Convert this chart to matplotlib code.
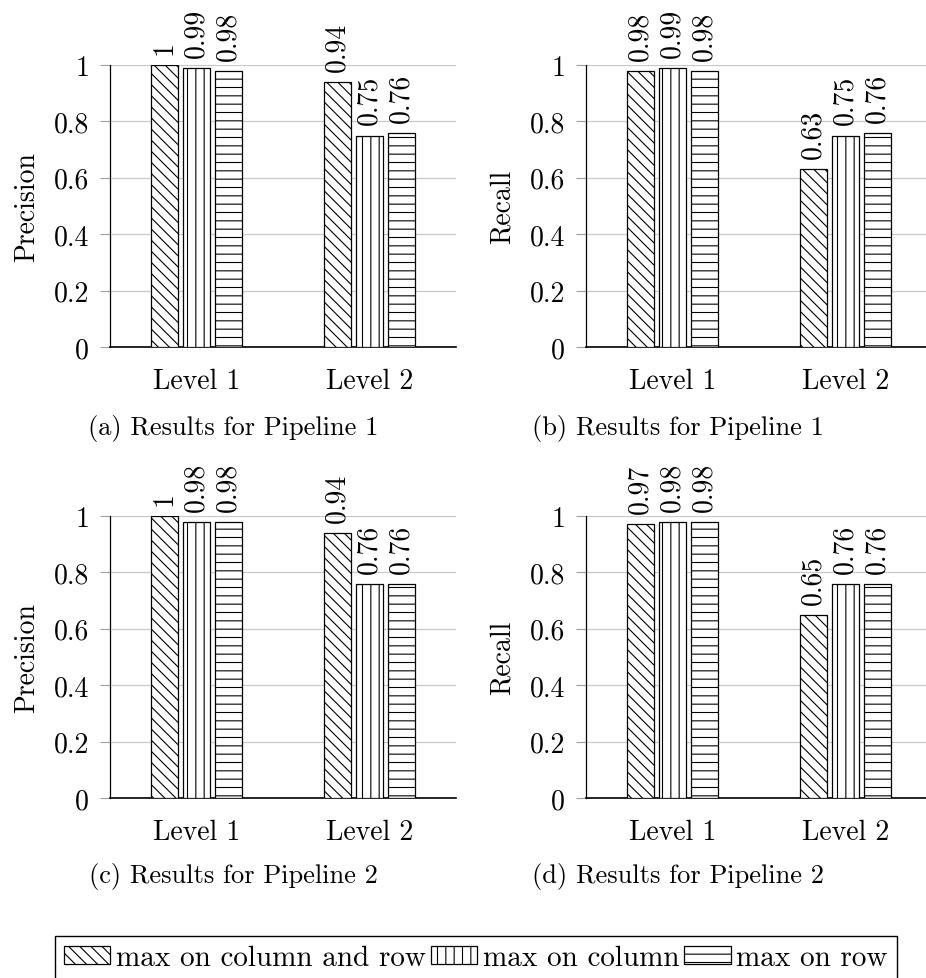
import matplotlib
matplotlib.use("Agg")
import matplotlib.pyplot as plt
import numpy as np

plt.rcParams['font.family'] = ['cmr10', 'DejaVu Serif']
plt.rcParams['axes.formatter.use_mathtext'] = True
plt.rcParams['hatch.linewidth'] = 0.8
plt.rcParams['hatch.color'] = 'black'

categories = ["Level 1", "Level 2"]
series_names = ["max on column and row", "max on column", "max on row"]
hatches = ["\\\\\\", "||", "--"]

# values[panel][series] -> [Level 1, Level 2]
panel_a = [[1.00, 0.94], [0.99, 0.75], [0.98, 0.76]]
panel_b = [[0.98, 0.63], [0.99, 0.75], [0.98, 0.76]]
panel_c = [[1.00, 0.94], [0.98, 0.76], [0.98, 0.76]]
panel_d = [[0.97, 0.65], [0.98, 0.76], [0.98, 0.76]]
value_labels_a = [["1", "0.94"], ["0.99", "0.75"], ["0.98", "0.76"]]
value_labels_b = [["0.98", "0.63"], ["0.99", "0.75"], ["0.98", "0.76"]]
value_labels_c = [["1", "0.94"], ["0.98", "0.76"], ["0.98", "0.76"]]
value_labels_d = [["0.97", "0.65"], ["0.98", "0.76"], ["0.98", "0.76"]]
ylabels = ["Precision", "Recall", "Precision", "Recall"]
captions = ["(a) Results for Pipeline 1", "(b) Results for Pipeline 1",
            "(c) Results for Pipeline 2", "(d) Results for Pipeline 2"]
yticks = [0, 0.2, 0.4, 0.6, 0.8, 1.0]
ytick_labels = ["0", "0.2", "0.4", "0.6", "0.8", "1"]

W, H = 926, 979
fig = plt.figure(figsize=(W / 100, H / 100), dpi=100)

def fx(px):
    return px / W

def fy(py):
    return 1 - py / H

axes_px = [(110, 348), (586, 348), (110, 799), (586, 799)]  # left, bottom (px)
ax_w, ax_h = 346, 282
caption_px = [(233, 428), (678, 428), (233, 877), (678, 877)]

panels = [panel_a, panel_b, panel_c, panel_d]
vlabels = [value_labels_a, value_labels_b, value_labels_c, value_labels_d]

x = np.arange(len(categories))
bar_w = 0.158
offsets = [-0.185, 0.0, 0.185]
handles = []
for i, (data, labs) in enumerate(zip(panels, vlabels)):
    lx, by = axes_px[i]
    ax = fig.add_axes([fx(lx), fy(by), ax_w / W, ax_h / H])
    for s in range(3):
        bars = ax.bar(x + offsets[s], data[s], width=bar_w, color='white',
                      edgecolor='black', linewidth=0.9, hatch=hatches[s],
                      label=series_names[s], zorder=3)
        if i == 0:
            handles.append(bars)
        for xi, v, t in zip(x + offsets[s], data[s], labs[s]):
            ax.annotate(t, (xi, v), xytext=(0, 8), textcoords='offset points',
                        rotation=90, ha='center', va='bottom', fontsize=20)
    ax.set_xlim(-0.5, 1.5)
    ax.set_ylim(0, 1.0)
    ax.set_yticks(yticks)
    ax.set_yticklabels(ytick_labels)
    ax.set_xticks(x)
    ax.set_xticklabels(categories)
    ax.tick_params(axis='x', length=0, pad=15, labelsize=20)
    ax.tick_params(axis='y', length=7, width=0.8, color='#a0a0a0', pad=8, labelsize=20)
    ax.grid(axis='y', color='#c8c8c8', linewidth=0.9, zorder=0)
    ax.set_axisbelow(True)
    for sp in ['top', 'right']:
        ax.spines[sp].set_visible(False)
    ax.spines['left'].set_linewidth(0.9)
    ax.spines['bottom'].set_linewidth(1.2)
    ax.set_ylabel(ylabels[i], fontsize=20, labelpad=10)
    cx, cy = caption_px[i]
    fig.text(fx(cx), fy(cy), captions[i], ha='center', va='center', fontsize=19)

leg = fig.legend(handles=handles, labels=series_names, ncol=3,
                 loc='upper left', bbox_to_anchor=(fx(55), fy(937)),
                 borderaxespad=0, fontsize=21, handlelength=1.6,
                 handleheight=0.55, handletextpad=0.18, columnspacing=0.18,
                 borderpad=0.3, fancybox=False, framealpha=1,
                 edgecolor='black')
leg.get_frame().set_linewidth(1.0)

fig.savefig("out.png", dpi=100)
